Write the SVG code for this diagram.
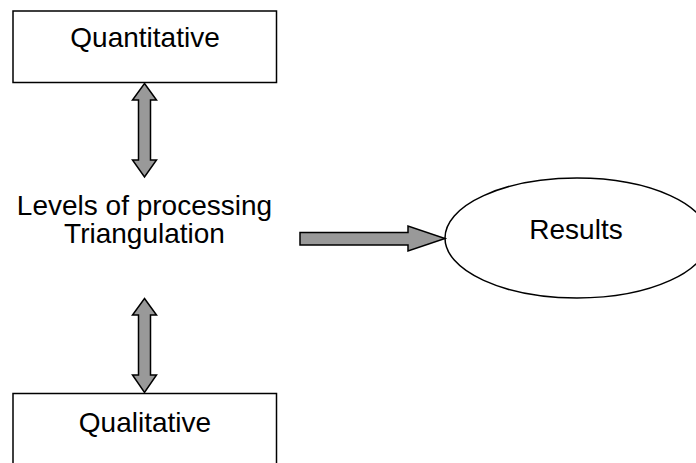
<svg xmlns="http://www.w3.org/2000/svg" width="696" height="463" viewBox="0 0 696 463">
  <style>
    .box { fill: #ffffff; stroke: #000000; stroke-width: 1.5; }
    .label { font-family: "Liberation Sans", Arial, sans-serif; font-size: 28px; fill: #000000; text-anchor: middle; }
    .arrow { fill: #999999; stroke: #000000; stroke-width: 1.5; stroke-linejoin: miter; }
  </style>
  <rect width="696" height="463" fill="#ffffff"/>

  <g id="quantitative">
    <rect class="box" x="13" y="11" width="263.5" height="71.5"/>
    <text class="label" x="145" y="47">Quantitative</text>
  </g>

  <g id="levels">
    <text class="label" x="144.5" y="214.5">Levels of processing</text>
    <text class="label" x="144.5" y="243">Triangulation</text>
  </g>

  <g id="results">
    <ellipse class="box" cx="577" cy="238" rx="132" ry="60"/>
    <text class="label" x="576" y="239">Results</text>
  </g>

  <g id="qualitative">
    <rect class="box" x="13" y="393.5" width="263.5" height="80"/>
    <text class="label" x="145" y="432">Qualitative</text>
  </g>

  <g id="connectors">
    <!-- double-headed block arrow: Quantitative to Levels -->
    <path class="arrow" d="M144.5,83.5 L156.5,100 L150.5,100 L150.5,160 L156.5,160 L144.5,177 L132.5,160 L138.5,160 L138.5,100 L132.5,100 Z"/>
    <!-- double-headed block arrow: Levels to Qualitative -->
    <path class="arrow" d="M144.5,298.5 L156.5,315 L150.5,315 L150.5,375 L156.5,375 L144.5,392.5 L132.5,375 L138.5,375 L138.5,315 L132.5,315 Z"/>
    <!-- block arrow: Levels to Results -->
    <path class="arrow" d="M300,232.5 L408,232.5 L408,226 L445,238.5 L408,251 L408,245 L300,245 Z"/>
  </g>
</svg>
